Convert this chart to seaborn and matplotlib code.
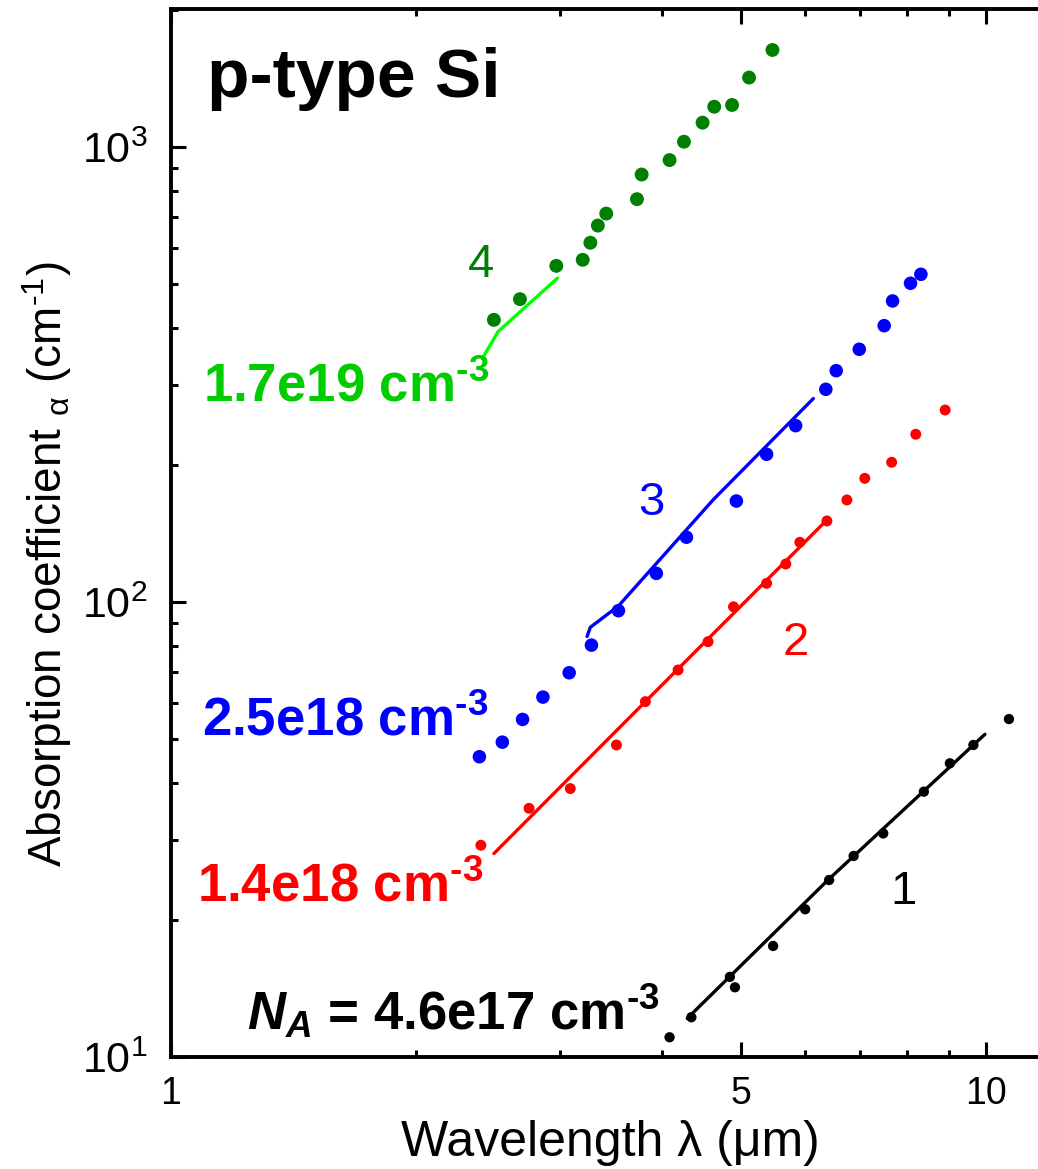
import matplotlib
matplotlib.use("Agg")
import matplotlib.pyplot as plt
import numpy as np
import pandas as pd
import seaborn as sns
from matplotlib.ticker import (FixedLocator, FixedFormatter, NullFormatter,
                               LogLocator, LogFormatterSciNotation)

# ---- measured absorption data (wavelength in um, alpha in cm^-1) ----
# sample 1: N_A = 4.6e17 cm^-3
k_x = [4.09, 4.35, 4.92, 4.85, 5.48, 6.00, 6.42, 6.88, 7.48, 8.39, 9.03, 9.65, 10.67]
k_y = [11.05, 12.23, 14.23, 15.0, 17.54, 21.12, 24.49, 27.66, 31.0, 38.3, 44.2, 48.5, 55.3]
k_fit_x = [4.30, 6.40, 9.97]
k_fit_y = [12.16, 24.5, 51.2]

# sample 2: 1.4e18 cm^-3
r_x = [2.40, 2.75, 3.09, 3.52, 3.82, 4.19, 4.56, 4.90, 5.38, 5.68, 5.91, 6.38,
       6.75, 7.10, 7.66, 8.20, 8.91]
r_y = [29.2, 35.2, 38.9, 48.5, 60.4, 70.9, 81.8, 97.6, 109.9, 121.2, 135.3, 150.7,
       167.6, 187.0, 202.8, 233.7, 264.2]
r_fit_x = [2.49, 3.82, 6.41]
r_fit_y = [28.0, 60.4, 152.8]

# sample 3: 2.5e18 cm^-3
b_x = [2.39, 2.55, 2.70, 2.86, 3.08, 3.28, 3.54, 3.94, 4.29, 4.94, 5.38, 5.84,
       6.36, 6.55, 6.99, 7.50, 7.68, 8.08, 8.32]
b_y = [45.7, 49.2, 55.2, 61.8, 69.9, 80.4, 95.7, 115.6, 138.8, 166.7, 211.2, 244.1,
       293.4, 322.4, 359.3, 404.9, 458.8, 501.8, 525.1]
b_fit_x = [3.24, 3.27, 3.54, 4.63, 6.14]
b_fit_y = [84.0, 88.0, 98.0, 168.0, 280.0]

# sample 4: 1.7e19 cm^-3
g_x = [2.49, 2.68, 2.97, 3.20, 3.27, 3.34, 3.42, 3.73, 3.78, 4.09, 4.26, 4.49,
       4.64, 4.88, 5.12, 5.47]
g_y = [417, 463, 548, 565, 616, 672, 714, 768, 870, 936, 1027, 1131,
       1226, 1237, 1421, 1634]
g_fit_x = [2.41, 2.52, 2.98]
g_fit_y = [343, 393, 515]

x_ticks = [1, 5, 10]
x_tick_labels = ["1", "5", "10"]
x_minor = [2, 3, 4, 6, 7, 8, 9]

sns.set_theme(style="white")
plt.rcParams["font.family"] = ["Liberation Sans", "DejaVu Sans"]
plt.rcParams["mathtext.fontset"] = "custom"
plt.rcParams["mathtext.rm"] = "Liberation Sans"
plt.rcParams["mathtext.it"] = "Liberation Sans:italic:bold"
plt.rcParams["mathtext.bf"] = "Liberation Sans:bold"

HY = "\u2010"  # short hyphen for the exponents

W, H = 1038, 1169
fig = plt.figure(figsize=(W / 100, H / 100), dpi=100)
fig.patch.set_facecolor("white")
xmax = 12.0
ax_w = 815 * np.log10(xmax)
ax = fig.add_axes([171 / W, (H - 1057) / H, ax_w / W, 1048 / H])
ax.set_xscale("log")
ax.set_yscale("log")
ax.set_xlim(1, xmax)
ax.set_ylim(10, 10 ** (1 + 1048 / 455))

series = [
    (k_x, k_y, k_fit_x, k_fit_y, "#000000", "#000000", 55),
    (r_x, r_y, r_fit_x, r_fit_y, "#FF0000", "#FF0000", 62),
    (b_x, b_y, b_fit_x, b_fit_y, "#0000FF", "#0000FF", 95),
    (g_x, g_y, g_fit_x, g_fit_y, "#008000", "#00FF00", 100),
]
for xs, ys, fx, fy, dot_c, line_c, size in series:
    pts = pd.DataFrame({"wavelength": xs, "alpha": ys})
    fit = pd.DataFrame({"wavelength": fx, "alpha": fy})
    sns.lineplot(data=fit, x="wavelength", y="alpha", sort=False, estimator=None,
                 color=line_c, linewidth=2.4, ax=ax, zorder=2)
    sns.scatterplot(data=pts, x="wavelength", y="alpha", color=dot_c, s=size,
                    edgecolor="none", linewidth=0, ax=ax, zorder=3)

# axes frame and ticks
for side in ["left", "bottom", "top"]:
    ax.spines[side].set_color("black")
    ax.spines[side].set_linewidth(2.8)
ax.spines["right"].set_visible(False)

ax.xaxis.set_major_locator(FixedLocator(x_ticks))
ax.xaxis.set_major_formatter(FixedFormatter(x_tick_labels))
ax.xaxis.set_minor_locator(FixedLocator(x_minor))
ax.xaxis.set_minor_formatter(NullFormatter())
ax.yaxis.set_major_locator(LogLocator(base=10))
ax.yaxis.set_major_formatter(LogFormatterSciNotation())
ax.yaxis.set_minor_locator(LogLocator(base=10, subs=np.arange(2, 10)))
ax.yaxis.set_minor_formatter(NullFormatter())
ax.tick_params(which="both", direction="in", top=True, right=False, bottom=True,
               left=True, color="black", width=2.2, labelsize=27, labelcolor="black")
ax.tick_params(which="major", length=11)
ax.tick_params(which="minor", length=5)
ax.tick_params(axis="y", which="major", pad=17, labelsize=31)
ax.tick_params(axis="x", which="major", pad=14)

ax.set_xlabel("Wavelength λ (μm)", fontsize=36, color="black")
ax.xaxis.set_label_coords(0.5, -0.060)
ax.set_ylabel("Absorption coefficient " + r"${}_{\mathrm{\alpha}}$"
              + " (cm" + r"$^{\mathrm{" + HY + "1}}$" + ")",
              fontsize=33, color="black")
ax.yaxis.set_label_coords(-0.11, 0.47)

# annotations
exp3 = r"$^{\mathbf{" + HY + "3}}$"
ax.text(1.107, 1288, "p-type Si", fontsize=50, fontweight="bold", color="black",
        ha="left", va="baseline")
ax.text(1.095, 276.5, "1.7e19 cm" + exp3, fontsize=38, fontweight="bold",
        color="#00CC00", ha="left", va="baseline")
ax.text(1.092, 51.0, "2.5e18 cm" + exp3, fontsize=38, fontweight="bold",
        color="#0000FF", ha="left", va="baseline")
ax.text(1.076, 22.0, "1.4e18 cm" + exp3, fontsize=38, fontweight="bold",
        color="#FF0000", ha="left", va="baseline")
ax.text(1.240, 11.47, r"$\mathit{N}_{\mathit{A}}$ = 4.6e17 cm" + exp3,
        fontsize=38, fontweight="bold", color="black", ha="left", va="baseline")

ax.text(2.314, 518, "4", fontsize=34, color="#008000", ha="left", va="baseline")
ax.text(3.741, 155.3, "3", fontsize=34, color="#0000FF", ha="left", va="baseline")
ax.text(5.636, 76.5, "2", fontsize=34, color="#FF0000", ha="left", va="baseline")
ax.text(7.625, 21.7, "1", fontsize=34, color="black", ha="left", va="baseline")

fig.savefig("out.png", dpi=100, facecolor="white")
